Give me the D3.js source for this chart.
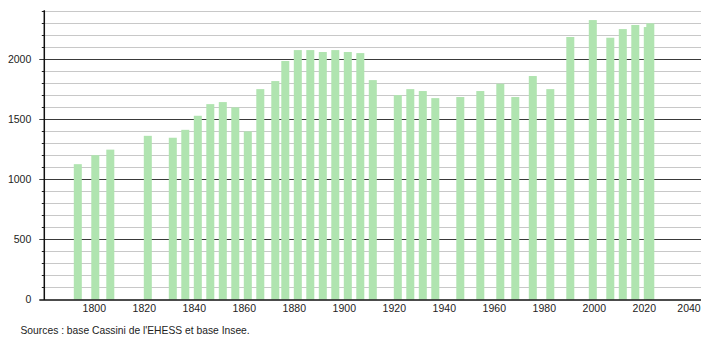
<!DOCTYPE html>
<html>
<head>
<meta charset="utf-8">
<script src="https://cdn.jsdelivr.net/npm/d3@7"></script>
<style>
  html, body { margin: 0; padding: 0; background: #fff; }
  svg { display: block; }
  text { font-family: "Liberation Sans", Arial, sans-serif; fill: #222; }
</style>
</head>
<body>
<svg id="chart" width="710" height="340"></svg>
<script>
const years = [1793,1800,1806,1821,1831,1836,1841,1846,1851,1856,1861,1866,1872,1876,1881,1886,1891,1896,1901,1906,1911,1921,1926,1931,1936,1946,1954,1962,1968,1975,1982,1990,1999,2006,2011,2016,2021,2022];
const population = [1127,1202,1248,1363,1347,1413,1530,1627,1644,1600,1400,1752,1819,1986,2077,2077,2061,2077,2061,2052,1827,1702,1752,1736,1677,1686,1736,1797,1686,1861,1752,2186,2327,2180,2252,2286,2269,2300];
const xTickYears = [1800,1820,1840,1860,1880,1900,1920,1940,1960,1980,2000,2020,2040];
const yMajorTicks = [0,500,1000,1500,2000];
const yMinorTicks = d3.range(0, 2401, 100);
const sourceText = "Sources : base Cassini de l'EHESS et base Insee.";

(function () {
const svg = d3.select("#chart");
const mLeft = 44.3, mRight = 701, mTop = 11.3, mBottom = 299.5;

const x = d3.scaleLinear().domain([1780, 2040]).range([mLeft, 694.3]);
const y = d3.scaleLinear().domain([0, 2400]).range([mBottom, mTop]);
const minor = yMinorTicks.filter(v => v % 500 !== 0);

// minor gridlines
svg.append("g").selectAll("line").data(minor).join("line")
  .attr("x1", mLeft).attr("x2", mRight)
  .attr("y1", d => Math.round(y(d)) + 0.5).attr("y2", d => Math.round(y(d)) + 0.5)
  .attr("stroke", "#c8c8c8").attr("stroke-width", 1);
// minor ticks
svg.append("g").selectAll("line").data(minor).join("line")
  .attr("x1", mLeft - 2.5).attr("x2", mLeft)
  .attr("y1", d => Math.round(y(d)) + 0.5).attr("y2", d => Math.round(y(d)) + 0.5)
  .attr("stroke", "#222").attr("stroke-width", 1);
// major gridlines (+ ticks)
svg.append("g").selectAll("line").data(yMajorTicks.filter(v => v > 0)).join("line")
  .attr("x1", mLeft - 5).attr("x2", mRight)
  .attr("y1", d => Math.round(y(d)) + 0.5).attr("y2", d => Math.round(y(d)) + 0.5)
  .attr("stroke", "#3a3a3a").attr("stroke-width", 1);

// bars
svg.append("g").selectAll("rect").data(years).join("rect")
  .attr("x", d => x(d) - 3)
  .attr("width", 8)
  .attr("y", (d, i) => y(population[i]))
  .attr("height", (d, i) => mBottom - y(population[i]))
  .attr("fill", "#b0e4b0");

// axes lines
svg.append("line").attr("x1", mLeft).attr("x2", mLeft).attr("y1", mTop - 1).attr("y2", mBottom + 0.5)
  .attr("stroke", "#111").attr("stroke-width", 1.5);
svg.append("line").attr("x1", mLeft - 5).attr("x2", mRight).attr("y1", mBottom + 0.5).attr("y2", mBottom + 0.5)
  .attr("stroke", "#111").attr("stroke-width", 1.5);

// y labels
svg.append("g").selectAll("text").data(yMajorTicks).join("text")
  .attr("x", mLeft - 13).attr("y", d => y(d))
  .attr("dy", "0.35em").attr("text-anchor", "end")
  .attr("font-size", 10.5).text(d => d);

// x labels
svg.append("g").selectAll("text").data(xTickYears).join("text")
  .attr("x", d => Math.min(x(d), 689)).attr("y", 312)
  .attr("text-anchor", "middle")
  .attr("font-size", 10.5).text(d => d);

svg.append("text").attr("x", 20.5).attr("y", 334)
  .attr("font-size", 10.3).text(sourceText);
})();
</script>
</body>
</html>
